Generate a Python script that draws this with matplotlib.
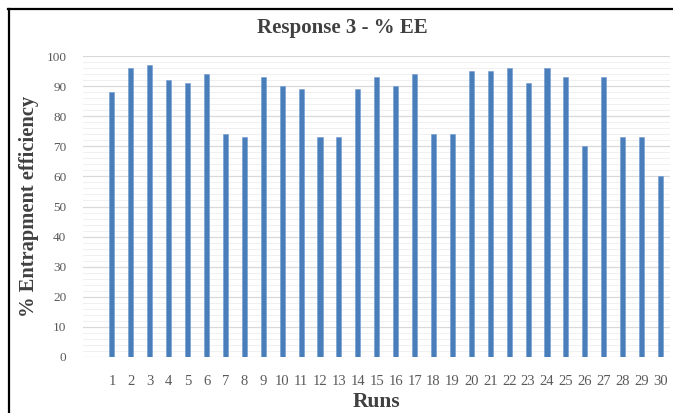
import matplotlib
matplotlib.use("Agg")
import matplotlib.pyplot as plt
from matplotlib.lines import Line2D
import numpy as np

runs = list(range(1, 31))
ee = [88, 96, 97, 92, 91, 94, 74, 73, 93, 90,
      89, 73, 73, 89, 93, 90, 94, 74, 74, 95,
      95, 96, 91, 96, 93, 70, 93, 73, 73, 60]

plt.rcParams["font.family"] = ["Liberation Serif", "DejaVu Serif"]

fig = plt.figure(figsize=(6.73, 4.13), dpi=100)
ax = fig.add_axes([0.1233, 0.1356, 0.8722, 0.7288])

ax.bar(runs, ee, width=0.27, color="#4a7ebb", edgecolor="#6f9bd1", linewidth=0.4, zorder=3)

ax.set_xlim(-0.53, 30.5)
ax.set_ylim(0, 100)
ax.set_yticks(np.arange(0, 101, 10))
ax.set_yticks(np.arange(0, 101, 2), minor=True)
ax.set_xticks(runs)
ax.set_xticklabels([str(r) for r in runs])
ax.grid(axis="y", which="major", color="#d9d9d9", lw=0.9, zorder=0)
ax.grid(axis="y", which="minor", color="#f0f0f0", lw=0.7, zorder=0)
for s in ax.spines.values():
    s.set_visible(False)
ax.tick_params(axis="both", which="both", length=0, colors="#595959")
ax.tick_params(axis="x", pad=13, labelsize=10.5)
ax.tick_params(axis="y", pad=12, labelsize=9.5)

ax.set_xlabel("Runs", fontsize=15.5, fontweight="bold", color="#404040", labelpad=3)
ax.set_ylabel("% Entrapment efficiency", fontsize=14.8, fontweight="bold", color="#404040", labelpad=5)
fig.text(0.508, 0.932, "Response 3 - % EE", ha="center", va="center",
         fontsize=15, fontweight="bold", color="#404040")

# outer frame (top and left only)
fig.add_artist(Line2D([8 / 673, 1], [1 - 9 / 413, 1 - 9 / 413], color="black", lw=1.6, transform=fig.transFigure))
fig.add_artist(Line2D([9 / 673, 9 / 673], [0, 1 - 9 / 413], color="black", lw=1.6, transform=fig.transFigure))

fig.savefig("out.png", dpi=100)
